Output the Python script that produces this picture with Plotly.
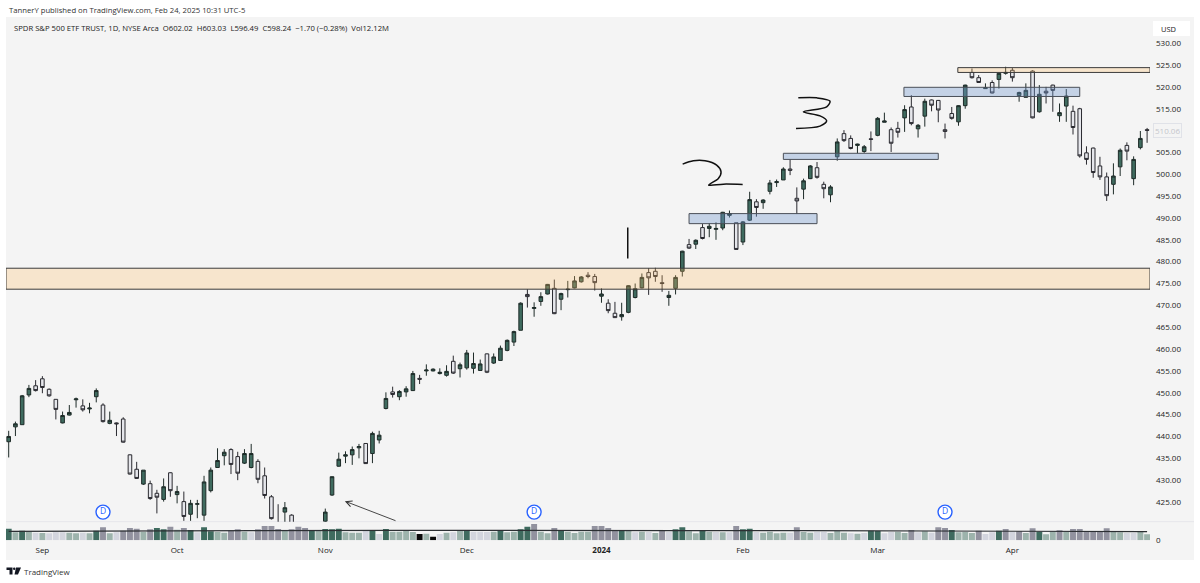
import plotly.graph_objects as go

W, H = 1200, 583

# Daily SPY candles, Aug 2023 - Apr 2024
opens = [438.8,442.2,442.7,449.5,451.6,453.2,450.8,448.5,443.1,444.9,
         448.4,447.0,446.3,449.1,447.2,443.0,443.1,444.0,435.8,432.5,
         429.1,429.2,427.0,425.6,431.7,426.7,425.1,422.2,424.5,422.0,
         427.6,432.9,435.6,437.0,435.4,433.9,432.9,434.3,431.0,426.2,
         420.0,422.7,422.0,418.0,415.0,413.0,411.0,420.6,426.6,433.2,
         435.5,435.8,437.4,438.4,436.1,439.2,446.4,450.2,449.1,450.2,
         450.5,453.3,455.0,455.0,454.4,454.0,457.2,455.5,455.7,455.6,
         455.1,458.9,456.8,457.4,459.7,461.6,464.3,472.5,469.3,470.9,
         472.6,473.9,471.4,473.6,474.0,475.4,476.9,476.6,472.1,470.5,
         468.2,467.4,468.4,471.8,474.0,477.5,477.8,475.2,471.8,473.9,
         477.8,483.9,484.0,487.8,487.6,487.4,487.7,490.6,488.9,484.5,
         489.5,493.7,493.5,496.1,498.1,498.7,501.2,494.5,496.6,499.0,
         501.5,497.7,495.3,504.0,509.3,508.2,506.6,505.2,508.1,508.9,
         511.9,510.2,510.5,512.9,515.4,510.4,513.3,517.0,516.9,510.2,
         513.9,512.0,515.7,523.3,522.1,519.6,521.0,521.7,523.1,523.8,
         518.0,517.6,523.6,514.3,519.0,520.4,513.4,515.6,514.4,515.0,
         504.9,506.0,501.9,499.4,497.7,501.7,506.6,499.0,506.1,510.2]
highs = [441.3,443.4,449.5,451.8,452.9,453.8,451.0,448.5,445.7,447.2,
         448.9,448.5,447.7,451.0,447.6,445.7,443.2,444.4,435.9,434.2,
         432.3,429.9,427.8,430.4,431.8,428.7,427.4,425.5,425.5,431.0,
         432.9,437.3,437.1,437.3,436.5,437.1,438.3,434.8,432.9,426.6,
         424.5,425.0,422.2,419.0,416.0,414.0,415.5,423.5,430.8,436.3,
         436.6,437.7,438.3,438.4,441.1,441.3,450.1,451.4,450.6,451.5,
         455.0,454.1,456.5,455.6,455.6,456.3,458.5,456.9,459.8,459.2,
         457.6,459.0,459.0,460.8,462.2,464.2,470.7,473.7,470.7,473.0,
         474.9,475.9,472.9,475.6,476.7,476.7,477.6,477.2,473.9,471.4,
         470.8,470.6,474.6,475.0,477.3,478.5,478.6,476.9,473.3,476.9,
         482.5,485.2,485.1,488.6,488.8,489.0,491.4,491.7,488.9,489.3,
         496.0,494.3,494.3,498.7,498.8,501.6,503.4,497.0,499.0,502.1,
         502.8,498.3,497.5,508.2,510.1,508.9,507.0,506.7,509.8,513.1,
         514.1,510.7,512.0,515.8,518.1,511.5,517.3,517.1,517.0,511.6,
         515.4,515.8,520.5,524.2,522.7,520.8,521.5,523.2,524.6,524.3,
         518.9,520.8,523.8,520.4,520.0,520.5,516.2,519.5,515.7,515.2,
         506.4,506.1,504.0,500.4,502.5,505.9,507.3,504.1,509.9,510.6]
lows = [435.2,440.1,442.7,449.0,450.3,449.9,449.1,443.9,443.0,444.8,
        446.6,445.7,445.3,447.8,443.2,442.8,440.1,438.6,431.3,430.3,
        428.9,425.5,422.4,425.1,426.2,424.7,420.7,420.7,421.3,420.7,
        427.2,432.9,433.4,431.4,430.0,433.7,432.7,429.3,425.8,421.0,
        417.5,420.2,417.5,414.0,411.5,410.5,410.5,419.5,426.4,433.1,
        433.9,433.5,435.0,433.7,433.9,438.4,446.2,448.9,448.3,449.1,
        450.4,452.0,453.9,454.9,454.2,453.7,454.3,453.5,455.3,454.4,
        455.0,454.5,456.6,457.3,459.5,460.7,464.3,469.5,467.4,469.9,
        472.5,468.0,468.9,471.8,473.9,475.2,476.2,473.4,470.6,468.2,
        467.2,466.5,468.2,471.6,473.9,472.4,475.4,473.1,469.9,472.5,
        476.6,482.9,482.9,485.1,485.6,485.0,487.2,490.1,482.8,483.8,
        489.3,490.3,492.1,495.4,497.1,498.7,499.8,490.9,494.3,498.9,
        499.0,494.5,493.6,503.1,507.4,505.7,504.8,504.9,505.3,508.7,
        511.9,505.1,508.4,509.7,511.2,508.4,510.9,514.4,511.9,508.2,
        512.5,511.1,515.0,521.9,521.0,519.6,518.5,519.6,522.8,521.2,
        516.6,517.6,512.8,514.1,516.2,514.3,512.0,512.0,509.1,503.8,
        502.2,499.2,498.7,493.9,495.4,499.6,503.2,497.5,505.7,507.2]
closes = [440.0,442.9,449.3,451.0,450.5,451.2,449.3,446.2,444.8,445.5,
          448.6,446.1,446.5,450.5,443.4,443.7,442.9,438.7,431.4,430.4,
          432.3,425.8,426.1,428.5,427.6,427.4,421.7,424.7,424.6,429.6,
          432.3,434.5,436.4,433.6,431.6,436.1,436.1,430.2,426.5,421.2,
          419.0,423.7,418.5,415.0,412.0,411.0,415.0,422.7,430.8,434.8,
          435.8,437.0,437.7,433.8,440.7,440.3,448.7,449.6,450.3,450.9,
          454.4,453.1,455.2,455.4,454.7,454.9,454.5,456.4,459.1,456.7,
          456.6,454.7,458.2,460.2,462.0,464.0,470.5,472.0,469.5,472.0,
          474.8,468.1,472.7,473.7,475.6,476.5,476.6,475.2,472.6,468.8,
          467.2,467.9,474.5,473.8,476.4,476.3,476.6,475.0,472.3,476.4,
          482.4,483.1,484.9,485.3,488.1,487.6,491.3,491.0,482.8,489.1,
          494.2,492.4,494.1,498.0,498.3,501.2,500.9,493.9,498.5,501.9,
          499.3,496.7,497.1,507.4,507.7,505.9,506.9,506.3,508.0,512.8,
          512.2,507.1,509.6,514.8,511.6,511.2,516.7,515.8,514.7,509.8,
          512.8,515.7,520.4,522.1,521.0,519.8,518.6,523.1,523.3,522.1,
          518.7,519.2,512.9,518.3,518.6,519.2,514.1,517.9,510.7,504.2,
          503.4,500.4,499.4,495.1,499.6,505.5,505.3,503.4,508.2,510.06]

# Volume in millions of shares, one tone per bar
volumes = [70,48,58,52,46,44,42,48,48,46,42,46,42,58,78,42,48,58,74,70,
           50,66,74,66,82,64,74,62,48,78,54,50,46,58,66,52,48,66,86,86,
           68,58,66,82,74,58,58,68,66,70,48,46,46,56,58,38,68,52,52,58,
           50,38,40,22,38,46,48,58,60,52,52,50,52,58,48,52,66,82,98,52,
           42,74,62,52,44,52,52,86,86,74,58,62,56,48,52,50,44,62,52,66,
           78,54,42,56,52,50,48,48,86,66,70,50,46,52,42,46,46,78,50,46,
           52,52,44,56,46,42,40,44,58,56,42,50,52,44,62,48,54,46,78,74,
           62,48,50,44,58,38,48,58,68,50,54,44,72,52,36,52,60,50,68,68,
           54,54,54,72,54,48,46,46,52,36]
vol_tones = list("glglwlwwwllwlgDlwDDD"
                 "lDggDlDgwggllDDlwDDD"
                 "DlDDDglggglllwgwglll"
                 "lklkwlwlgwwwlgllggDl"
                 "lDgllllDDDDglwlwlDwg"
                 "gllglwlwDggwllllwDll"
                 "wwlllwlwggwwllDwlwDD"
                 "glllDwwgDwDlDgllDlDD"
                 "DDDDllwwll")
TONE_COLORS = {"g": "#3f6b5f", "l": "#9db3ac", "D": "#92929f", "w": "#d3d5de", "k": "#0a0a0a"}
vol_ma_bars = [0, 58, 100, 118, 169]
vol_ma = [54, 60, 58, 58, 52]

# Axis labels; the last-price tag takes the place of the 510 label
price_ticks = [p for p in range(425, 535, 5) if p != 510]
month_bars = [5, 25, 47, 68, 88, 109, 129, 149]
month_labels = ["Sep", "Oct", "Nov", "Dec", "<b>2024</b>", "Feb", "Mar", "Apr"]
last_price = 510.06

# Drawn zones: first bar, last bar, upper price, lower price
zones_orange = [(-0.4, 169.43, 478.5, 473.7), (140.9, 169.43, 524.4, 523.3)]
zones_blue = [(101.0, 120.0, 491.0, 488.7), (115.0, 138.0, 504.8, 503.4), (132.9, 159.0, 519.9, 517.8)]

# Pen strokes
stroke_one = ([91.9, 91.9], [487.8, 480.7])
stroke_two = ([100.05,101.64,103.37,105.10,105.75,105.35,103.91,106.09,108.96],
              [502.31,503.08,503.08,502.08,500.56,499.03,497.51,497.74,497.66])
stroke_three = ([117.22,119.95,121.93,121.43,117.97,120.44,121.43,120.44,116.88],
                [517.49,517.49,516.73,515.43,514.29,513.37,512.23,511.01,510.48])
arrow_tail = (57.65, 420.6)
arrow_head = (49.9, 425.2)

dividend_bars = [14, 78, 139]
dividend_price = 422.7

bars = list(range(len(closes)))


def fx(px):
    return px / W


def fy(py):
    return 1 - py / H


fig = go.Figure()
fig.add_trace(go.Candlestick(
    x=bars, open=opens, high=highs, low=lows, close=closes,
    whiskerwidth=0,
    increasing=dict(fillcolor="#3f6b5f", line=dict(color="#1e2b28", width=1)),
    decreasing=dict(fillcolor="#e6e7ec", line=dict(color="#2a2a30", width=1)),
    showlegend=False, hoverinfo="skip", xaxis="x", yaxis="y",
))
for xs, ys in (stroke_one, stroke_two, stroke_three):
    fig.add_trace(go.Scatter(
        x=xs, y=ys, mode="lines", line=dict(color="#111111", width=1.5, shape="spline", smoothing=0.9),
        showlegend=False, hoverinfo="skip", xaxis="x", yaxis="y",
    ))
fig.add_trace(go.Scatter(
    x=dividend_bars, y=[dividend_price] * len(dividend_bars), mode="markers+text",
    text=["D"] * len(dividend_bars), textposition="middle center",
    textfont=dict(size=8.5, color="#2962ff", family="Open Sans"),
    marker=dict(size=14, color="#ffffff", line=dict(color="#2962ff", width=1.4)),
    showlegend=False, hoverinfo="skip", xaxis="x", yaxis="y",
))
fig.add_trace(go.Bar(
    x=bars, y=volumes, marker=dict(color=[TONE_COLORS[t] for t in vol_tones], line_width=0),
    showlegend=False, hoverinfo="skip", xaxis="x2", yaxis="y2",
))
fig.add_trace(go.Scatter(
    x=vol_ma_bars, y=vol_ma, mode="lines", line=dict(color="#2c2f33", width=1.2),
    showlegend=False, hoverinfo="skip", xaxis="x2", yaxis="y2",
))

shapes = [
    dict(type="rect", xref="paper", yref="paper", x0=fx(6), x1=fx(1194), y0=fy(560), y1=fy(17),
         fillcolor="#f4f4f4", line_width=0, layer="below"),
    dict(type="rect", xref="paper", yref="paper", x0=fx(1153), x1=fx(1190), y0=fy(36), y1=fy(21),
         fillcolor="#ffffff", line_width=0, layer="below"),
    dict(type="line", xref="paper", yref="paper", x0=fx(6), x1=fx(1194), y0=fy(521.7), y1=fy(521.7),
         line=dict(color="#e6e6ea", width=1), layer="below"),
    # TradingView mark
    dict(type="path", xref="paper", yref="paper", fillcolor="#131722", line_width=0,
         path=" ".join([f"M {fx(6.5)} {fy(567.5)}", f"L {fx(12.5)} {fy(567.5)}", f"L {fx(12.5)} {fy(574.5)}",
                        f"L {fx(9.5)} {fy(574.5)}", f"L {fx(9.5)} {fy(570)}", f"L {fx(6.5)} {fy(570)} Z"])),
    dict(type="path", xref="paper", yref="paper", fillcolor="#131722", line_width=0,
         path=" ".join([f"M {fx(16)} {fy(567.5)}", f"L {fx(21)} {fy(567.5)}", f"L {fx(18)} {fy(574.5)}",
                        f"L {fx(14.5)} {fy(574.5)} Z"])),
    dict(type="circle", xref="paper", yref="paper", fillcolor="#131722", line_width=0,
         x0=fx(13), x1=fx(15.4), y0=fy(570), y1=fy(567.6)),
]
for x0, x1, top, bottom in zones_orange:
    shapes.append(dict(type="rect", xref="x", yref="y", x0=x0, x1=x1, y0=bottom, y1=top,
                       fillcolor="rgba(255,190,100,0.27)", line=dict(color="#3c3c3c", width=1)))
for x0, x1, top, bottom in zones_blue:
    shapes.append(dict(type="rect", xref="x", yref="y", x0=x0, x1=x1, y0=bottom, y1=top,
                       fillcolor="rgba(110,150,205,0.36)", line=dict(color="#4a4f58", width=1)))

annotations = [
    dict(xref="paper", yref="paper", x=fx(7), y=fy(10), xanchor="left", yanchor="middle", showarrow=False,
         text="TannerY published on TradingView.com, Feb 24, 2025 10:31 UTC-5",
         font=dict(size=7.7, color="#333333")),
    dict(xref="paper", yref="paper", x=fx(12), y=fy(28), xanchor="left", yanchor="middle", showarrow=False,
         text="SPDR S&P 500 ETF TRUST, 1D, NYSE Arca  O602.02  H603.03  L596.49  C598.24  \u22121.70 (\u22120.28%)  Vol12.12M",
         font=dict(size=7.7, color="#222222")),
    dict(xref="paper", yref="paper", x=fx(1159), y=fy(29), xanchor="left", yanchor="middle", showarrow=False,
         text="USD", font=dict(size=7.5, color="#222222")),
    dict(xref="paper", yref="paper", x=fx(22), y=fy(571), xanchor="left", yanchor="middle", showarrow=False,
         text="TradingView", font=dict(size=8, color="#333333")),
    dict(xref="paper", yref="y", x=fx(1167), y=last_price, xanchor="center", yanchor="middle", showarrow=False,
         text=f"{last_price:.2f}", font=dict(size=8, color="#c4c6cc"),
         bgcolor="#f4f4f4", bordercolor="#e0e2e8", borderwidth=1, borderpad=1),
    dict(xref="x", yref="y", axref="x", ayref="y", x=arrow_head[0], y=arrow_head[1],
         ax=arrow_tail[0], ay=arrow_tail[1], text="", showarrow=True, arrowhead=5, arrowsize=1.3,
         arrowwidth=0.9, arrowcolor="#333333"),
]

fig.update_layout(
    width=W, height=H, margin=dict(l=0, r=0, t=0, b=0),
    paper_bgcolor="#ffffff", plot_bgcolor="rgba(0,0,0,0)",
    font=dict(family="Open Sans, sans-serif", size=8, color="#222222"),
    showlegend=False, bargap=0.12, boxgap=0.24,
    shapes=shapes, annotations=annotations,
    xaxis=dict(domain=[fx(6), fx(1150)], range=[-0.4, 169.43], anchor="y", showgrid=False,
               zeroline=False, showticklabels=False, ticks="", rangeslider=dict(visible=False),
               showline=False, automargin=False),
    yaxis=dict(domain=[fy(521.7), fy(20)], range=[420.5, 535.3], anchor="x", side="right",
               tickvals=price_ticks, ticktext=[f"{p:.2f}" for p in price_ticks], showgrid=False,
               zeroline=False, ticks="", showline=False, ticklabelstandoff=5, automargin=False),
    xaxis2=dict(domain=[fx(6), fx(1150)], range=[-0.4, 169.43], anchor="y2", showgrid=False,
                zeroline=False, tickvals=month_bars, ticktext=month_labels, ticks="",
                tickangle=0, showline=False, ticklabelstandoff=4, automargin=False),
    yaxis2=dict(domain=[fy(540.3), fy(521.7)], range=[0, 111.6], anchor="x2", side="right",
                tickvals=[0], ticktext=["0"], showgrid=False, zeroline=False, ticks="",
                showline=False, ticklabelstandoff=5, automargin=False),
)

fig.write_html("out.html")
